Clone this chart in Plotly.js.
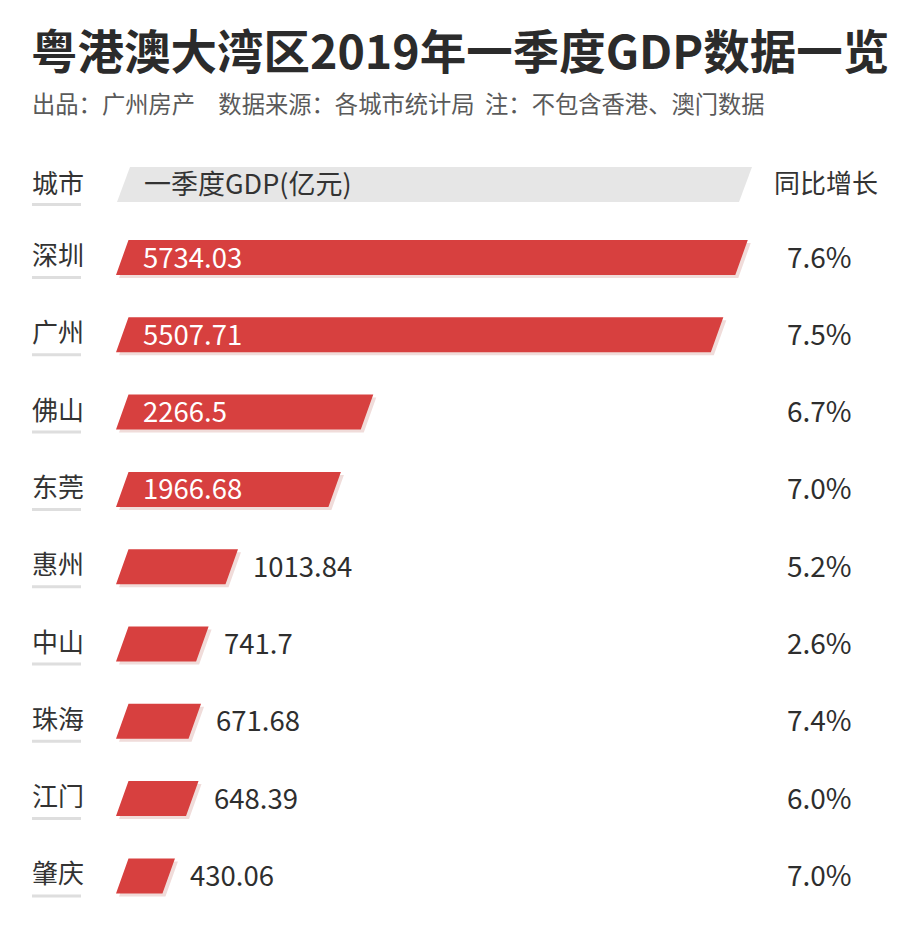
<!DOCTYPE html>
<html>
<head>
<meta charset="utf-8">
<script src="https://cdn.plot.ly/plotly-3.0.1.min.js"></script>
<style>html,body{margin:0;padding:0;background:#fff;}#chart{width:900px;height:933px;}</style>
</head>
<body>
<div id="chart"></div>
<script>
// ---- data ----
const titleText = '粤港澳大湾区2019年一季度GDP数据一览';
const subtitleText = '出品：广州房产\u3000数据来源：各城市统计局\u00a0\u00a0注：不包含香港、澳门数据';
const headerCity = '城市';
const headerValue = '一季度GDP(亿元)';
const headerGrowth = '同比增长';
const cities = ['深圳', '广州', '佛山', '东莞', '惠州', '中山', '珠海', '江门', '肇庆'];
const gdp = [5734.03, 5507.71, 2266.5, 1966.68, 1013.84, 741.7, 671.68, 648.39, 430.06];
const growth = [7.6, 7.5, 6.7, 7.0, 5.2, 2.6, 7.4, 6.0, 7.0];

// ---- layout constants (pixels) ----
const W = 900, H = 933;
const ZERO_PX = 116;          // pixel of value 0
const PXU = 0.1080;           // pixels per 亿元
const ROW0_PX = 257.5;        // centre of first row
const ROW = 77.3;             // row pitch in pixels
const BAR_H = 35, SLANT = 12.5;
const FONT = '"Noto Sans CJK SC", "Noto Sans", sans-serif';
const RED = '#d7403f', SHADOW = '#f0dcda', GREY = '#e6e6e6';

const X = px => (px - ZERO_PX) / PXU;      // pixel -> x data
const Yr = px => (px - ROW0_PX) / ROW;     // pixel -> y data
const dx = SLANT / PXU, h = BAR_H / 2 / ROW;
const headerY = Yr(184.5);

// bars as slanted parallelograms
function polys(offX, offY) {
  const xs = [], ys = [];
  gdp.forEach((v, i) => {
    xs.push(0 + offX, v + offX, v + dx + offX, dx + offX, 0 + offX, null);
    ys.push(i + h + offY, i + h + offY, i - h + offY, i - h + offY, i + h + offY, null);
  });
  return {xs, ys};
}
const sh = polys(3 / PXU, 3 / ROW);
const bp = polys(0, 0);
const traces = [
  {type: 'scatter', mode: 'lines', x: sh.xs, y: sh.ys, fill: 'toself', fillcolor: SHADOW,
   line: {width: 0, color: SHADOW}, hoverinfo: 'skip', showlegend: false},
  {type: 'scatter', mode: 'lines', x: bp.xs, y: bp.ys, fill: 'toself', fillcolor: RED,
   line: {width: 0, color: RED}, hoverinfo: 'skip', showlegend: false}
];

const shapes = [];
// header grey parallelogram
const hb = 202, ht = 167;
shapes.push({type: 'path', xref: 'x', yref: 'y', layer: 'below',
  path: `M ${X(117)} ${Yr(hb)} L ${X(739)} ${Yr(hb)} L ${X(752)} ${Yr(ht)} L ${X(130)} ${Yr(ht)} Z`,
  fillcolor: GREY, line: {width: 0}});
// city underlines
[headerY].concat(cities.map((c, i) => i)).forEach(yc => {
  shapes.push({type: 'rect', xref: 'paper', yref: 'y', x0: 32 / W, x1: 81 / W,
    y0: yc + 18.5 / ROW, y1: yc + 21.5 / ROW, fillcolor: '#dedede', line: {width: 0}, layer: 'below'});
});

const ann = [];
const txt = (text, x, xref, y, opts) => Object.assign({text, x, xref, y, yref: 'y', showarrow: false,
  xanchor: 'left', yanchor: 'middle', font: {family: FONT, size: 26, color: '#333'}}, opts || {});
// header row
ann.push(txt(headerCity, 30 / W, 'paper', headerY, {yshift: 3}));
ann.push(txt(headerValue, 142 / W, 'paper', headerY, {yshift: 2, font: {family: FONT, size: 27, color: '#333'}}));
ann.push(txt(headerGrowth, 826 / W, 'paper', headerY, {xanchor: 'center', yshift: 3}));
cities.forEach((c, i) => {
  ann.push(txt(c, 30 / W, 'paper', i, {yshift: 4}));
  const label = String(gdp[i]);
  if (gdp[i] > 1500) {
    ann.push(txt(label, 141 / W, 'paper', i, {yshift: 2, font: {family: FONT, size: 27.5, color: '#ffffff'}}));
  } else {
    ann.push(txt(label, gdp[i] + dx, 'x', i, {xshift: 13, yshift: 2, font: {family: FONT, size: 27.5, color: '#2e2e2e'}}));
  }
  ann.push(txt(growth[i].toFixed(1) + '%', 819 / W, 'paper', i, {xanchor: 'center', yshift: 2,
    font: {family: FONT, size: 28, color: '#2e2e2e'}}));
});
// subtitle
ann.push({text: subtitleText, xref: 'paper', yref: 'paper', x: 30 / W, y: 1 - 103 / H,
  xanchor: 'left', yanchor: 'middle', showarrow: false, font: {family: FONT, size: 23.3, color: '#5a5a5a'}});

const layout = {
  width: W, height: H,
  margin: {l: 0, r: 0, t: 0, b: 0, pad: 0},
  paper_bgcolor: '#ffffff', plot_bgcolor: '#ffffff',
  showlegend: false,
  title: {text: titleText, x: 31 / W, xanchor: 'left', xref: 'paper', y: 1 - 53 / H, yanchor: 'middle',
    yref: 'container', font: {family: FONT, size: 46.5, color: '#2b2b2b', weight: 700}},
  xaxis: {range: [X(0), X(W)], visible: false, fixedrange: true},
  yaxis: {range: [Yr(H), Yr(0)], visible: false, fixedrange: true},
  shapes, annotations: ann
};
Plotly.newPlot('chart', traces, layout, {displayModeBar: false, staticPlot: true});
</script>
</body>
</html>
